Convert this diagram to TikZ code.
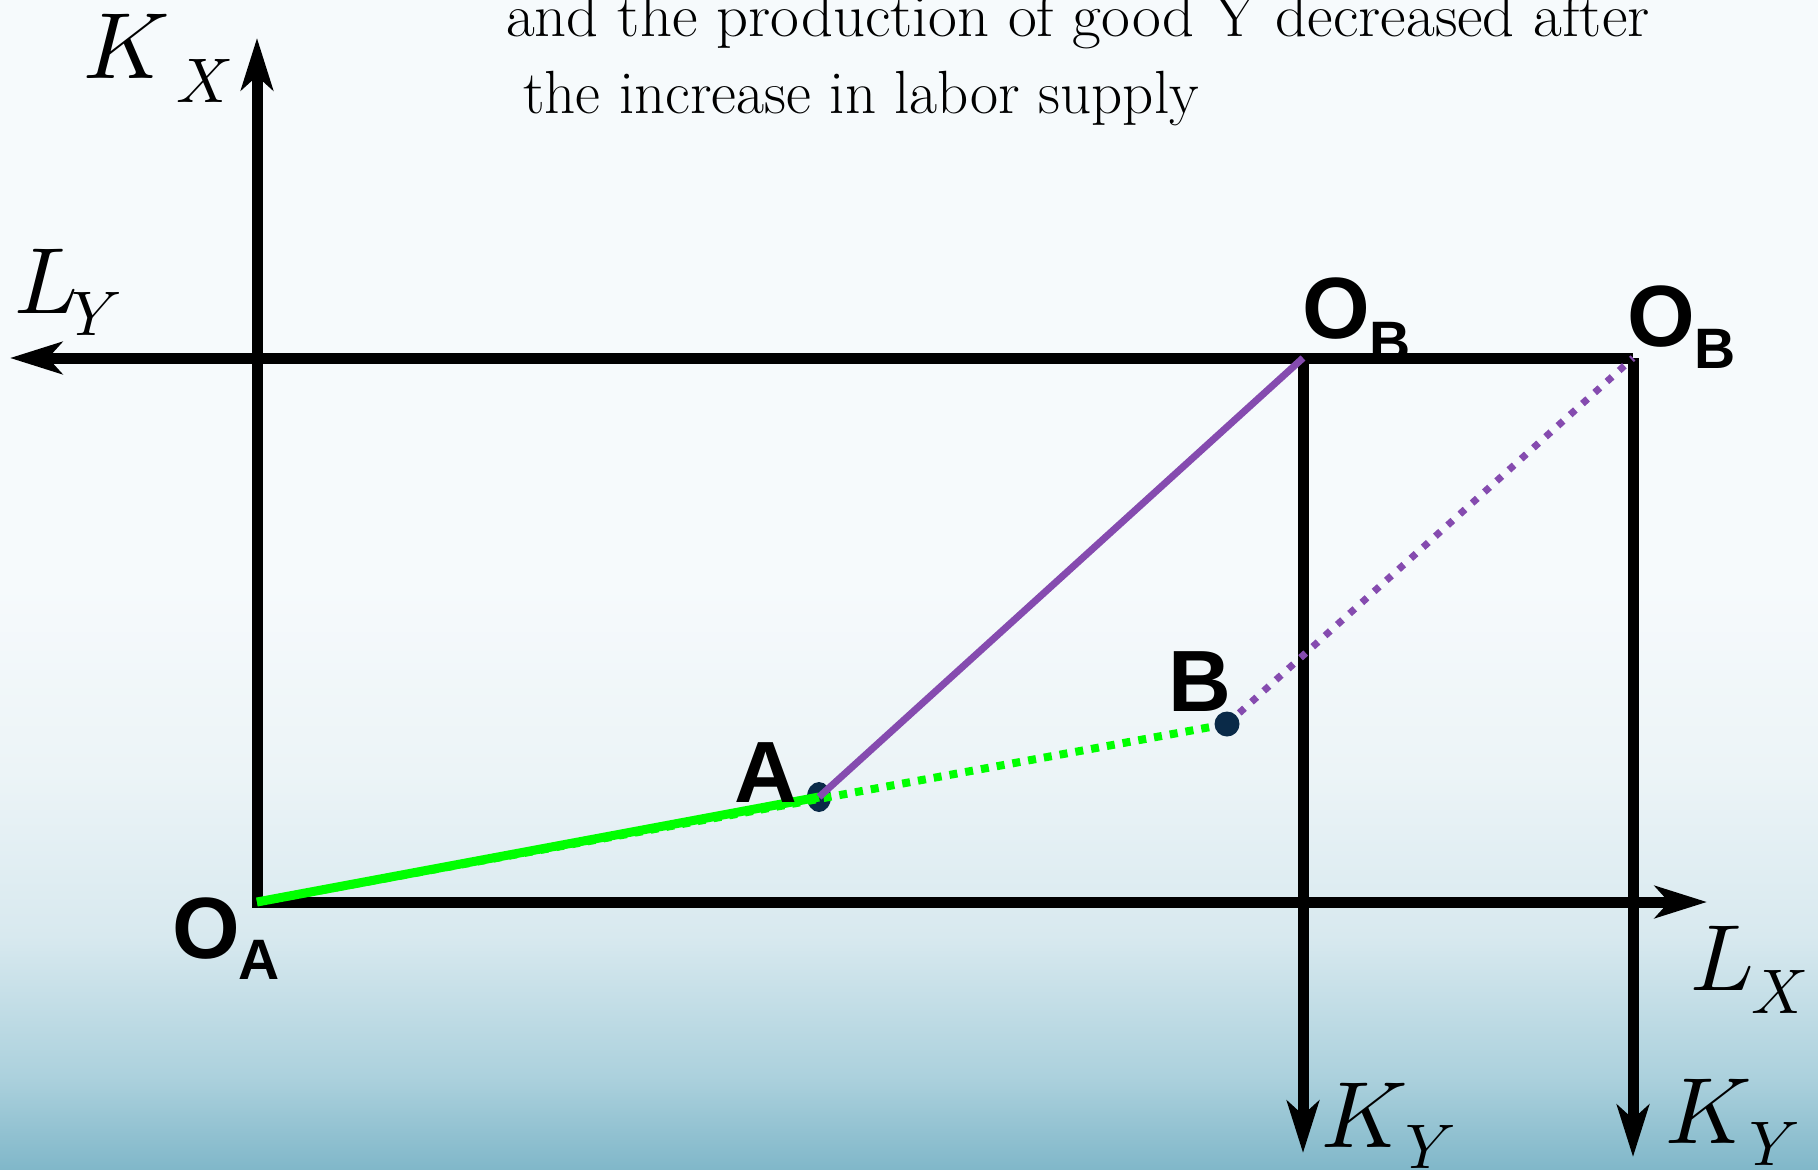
\documentclass[tikz,border=0pt]{standalone}
\usepackage{fontspec}
\newfontfamily\lblfont{Liberation Sans}
\usetikzlibrary{arrows.meta,shapes.geometric}
\DeclareFontShape{OML}{cmm}{m}{it}{<->cmmi10}{}
\definecolor{bgtop}{RGB}{246,250,252}
\definecolor{bgA}{RGB}{236,244,247}
\definecolor{bgB}{RGB}{216,233,239}
\definecolor{bgC}{RGB}{172,209,221}
\definecolor{bgbot}{RGB}{128,183,201}
\definecolor{purp}{RGB}{133,75,175}
\definecolor{grn}{RGB}{0,255,0}
\definecolor{navy}{RGB}{10,42,72}
\pgfdeclareverticalshading{bgshade}{100bp}{color(0bp)=(bgbot); color(25bp)=(bgbot); color(29bp)=(bgC); color(35bp)=(bgB); color(42bp)=(bgA); color(50bp)=(bgtop); color(100bp)=(bgtop)}
\tikzset{
  >={Stealth[length=52pt,width=32pt,inset=14pt]},
  axisline/.style={line width=11pt, black},
  lbl/.style={font=\lblfont\bfseries\fontsize{87}{87}\selectfont, inner sep=0pt, anchor=base},
  lblsub/.style={font=\lblfont\bfseries\fontsize{57}{57}\selectfont, inner sep=0pt, anchor=base},
  mlbl/.style={font=\fontsize{94}{94}\selectfont, inner sep=0pt, anchor=base},
  mlblsub/.style={font=\fontsize{63}{63}\selectfont, inner sep=0pt, anchor=base},
  titletext/.style={font=\fontsize{61}{66}\selectfont, inner sep=0pt, anchor=base west},
  dotmark/.style={fill=navy, draw=none, inner sep=0pt},
}
\begin{document}
\begin{tikzpicture}[x=1pt,y=-1pt]
\useasboundingbox (0,0) rectangle (1818,1170);
\shade[shading=bgshade] (0,0) rectangle (1818,1170);

% coordinates
\coordinate (OA) at (257,902);
\coordinate (OB1) at (1303,358);
\coordinate (OB2) at (1633,358);
\coordinate (kxtip) at (257,38);
\coordinate (lytip) at (10,358);
\coordinate (lxtip) at (1707,902);
\coordinate (ky1tip) at (1303,1153);
\coordinate (ky2tip) at (1633,1157);

% title
\node[titletext] (t1) at (506,36) {\scalebox{1.027}[1]{and the production of good Y decreased after}};
\node[titletext] (t2) at (523,113) {the increase in labor supply};

% axes
\draw[axisline,<->] (kxtip) -- (OA) -- (lxtip);
\draw[axisline,->] (OB2) -- (lytip);
\draw[axisline,->] (OB1) -- (ky1tip);
\draw[axisline,->] (OB2) -- (ky2tip);

% points
\node[dotmark, ellipse, minimum width=24pt, minimum height=30pt] (A) at (819,797) {};
\coordinate (Bc) at (1227,724);

% paths
\draw[grn, line width=8pt, dash pattern=on 8pt off 8pt] (OA) -- (Bc);
\draw[grn, line width=9pt] (OA) -- (A.center);
\draw[purp, line width=7pt] (A.center) -- (OB1);
\draw[purp, line width=7pt, dash pattern=on 7pt off 9.5pt] (Bc) -- (OB2);
\node[dotmark, circle, minimum size=25pt] (B) at (Bc) {};

% bold labels
\node[lbl] (lOA) at (206,958) {O};
\node[lblsub] (lOAs) at (259,979) {A};
\node[lbl] (lOB1) at (1336,338) {O};
\node[lblsub] (lOB1s) at (1390,361) {B};
\node[lbl] (lOB2) at (1661,346) {O};
\node[lblsub] (lOB2s) at (1715,368) {B};
\node[lbl] (lA) at (766,802) {A};
\node[lbl] (lB) at (1200,711) {B};

% axis labels
\node[mlbl] (kx) at (127,78) {$K$};
\node[mlblsub] (kxs) at (205,102) {$X$};
\node[mlbl] (ly) at (46,313) {$L$};
\node[mlblsub] (lys) at (97,335) {$Y$};
\node[mlbl] (lx) at (1722,990) {$L$};
\node[mlblsub] (lxs) at (1780,1013) {$X$};
\node[mlbl] (ky1) at (1365,1147) {$K$};
\node[mlblsub] (ky1s) at (1431,1168) {$Y$};
\node[mlbl] (ky2) at (1709,1143) {$K$};
\node[mlblsub] (ky2s) at (1775,1165) {$Y$};
\end{tikzpicture}
\end{document}
